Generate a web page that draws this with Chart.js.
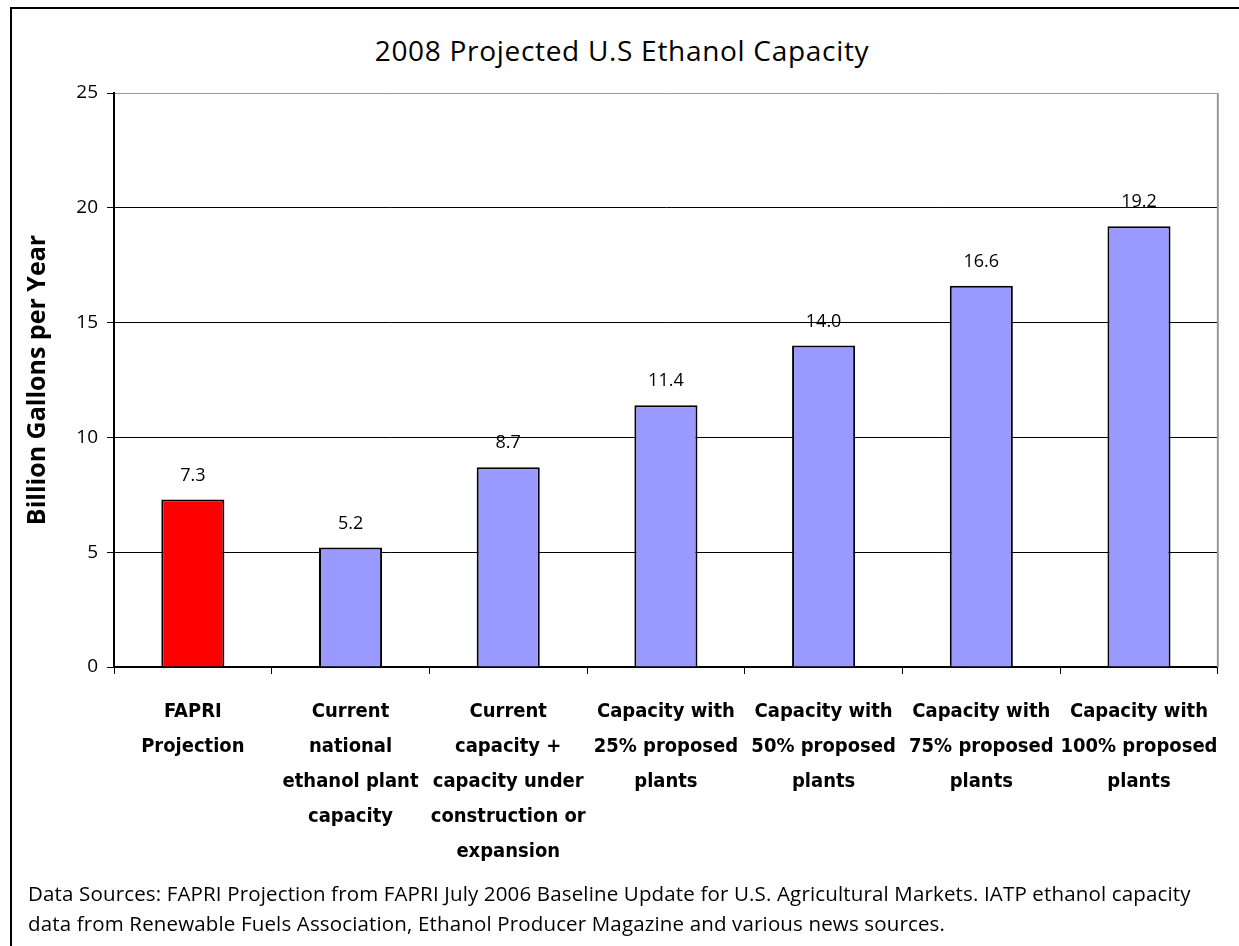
<!DOCTYPE html>
<html>
<head>
<meta charset="utf-8">
<script src="https://cdn.jsdelivr.net/npm/chart.js@4.4.1/dist/chart.umd.min.js"></script>
<style>
  html, body { margin: 0; padding: 0; background: #fff; overflow: hidden; }
  #wrap { position: relative; width: 1239px; height: 946px; overflow: hidden; }
  #frame { position: absolute; left: 10px; top: 7px; width: 1400px; height: 1100px; border: 2px solid #000; box-sizing: border-box; }
  #chartTitle { position: absolute; left: 0; width: 1244px; top: 30px; text-align: center;
    font-family: "Open Sans", "DejaVu Sans", sans-serif; font-size: 28px; letter-spacing: 0.7px; color: #000; line-height: 40px; }
  #note { position: absolute; left: 28px; top: 878px; font-family: "Open Sans", "DejaVu Sans", sans-serif;
    font-size: 20.5px; line-height: 30px; color: #000; white-space: nowrap; letter-spacing: 0.15px; }
  canvas { position: absolute; left: 0; top: 0; }
</style>
</head>
<body>
<div id="wrap">
  <div id="frame"></div>
  <div id="chartTitle">2008 Projected U.S Ethanol Capacity</div>
  <canvas id="c" width="1239" height="946"></canvas>
  <div id="note">Data Sources: FAPRI Projection from FAPRI July 2006 Baseline Update for U.S. Agricultural Markets. IATP ethanol capacity<br>data from Renewable Fuels Association, Ethanol Producer Magazine and various news sources.</div>
</div>
<script>
// --- data ---
const categories = [
    ['FAPRI', 'Projection'],
    ['Current', 'national', 'ethanol plant', 'capacity'],
    ['Current', 'capacity +', 'capacity under', 'construction or', 'expansion'],
    ['Capacity with', '25% proposed', 'plants'],
    ['Capacity with', '50% proposed', 'plants'],
    ['Capacity with', '75% proposed', 'plants'],
    ['Capacity with', '100% proposed', 'plants']
];
const capacity = [7.3, 5.2, 8.7, 11.4, 14.0, 16.6, 19.2];
const barColors = ['#FF0000', '#9999FF', '#9999FF', '#9999FF', '#9999FF', '#9999FF', '#9999FF'];
const yTicks = [0, 5, 10, 15, 20, 25];

const baseFont = '"Open Sans", "DejaVu Sans", sans-serif';

// value labels above each bar + grey plot-area right edge
const barLabels = {
    id: 'barLabels',
    beforeDatasetsDraw(chart) {
        const a = chart.chartArea;
        const ctx = chart.ctx;
        ctx.save();
        ctx.strokeStyle = '#999';
        ctx.lineWidth = 2;
        ctx.beginPath();
        ctx.moveTo(a.right, a.top);
        ctx.lineTo(a.right, a.bottom);
        ctx.stroke();
        ctx.restore();
    },
    afterDatasetsDraw(chart) {
        const ctx = chart.ctx;
        const meta = chart.getDatasetMeta(0);
        ctx.save();
        ctx.font = '18px ' + baseFont;
        ctx.fillStyle = '#000';
        ctx.textAlign = 'center';
        ctx.textBaseline = 'middle';
        meta.data.forEach((bar, i) => {
            ctx.fillText(capacity[i].toFixed(1), bar.x, bar.y - 24);
        });
        ctx.restore();
    }
};

new Chart(document.getElementById('c'), {
    type: 'bar',
    data: {
        labels: categories,
        datasets: [{
            data: capacity,
            backgroundColor: barColors,
            borderColor: '#000',
            borderWidth: 2,
            barPercentage: 0.4,
            categoryPercentage: 1
        }]
    },
    options: {
        responsive: false,
        animation: false,
        layout: { padding: { top: 93, right: 21, left: 0, bottom: 0 } },
        plugins: { legend: { display: false }, tooltip: { enabled: false } },
        scales: {
            x: {
                grid: { drawOnChartArea: false, drawTicks: true, tickLength: 7, color: '#000', offset: true },
                border: { color: '#000', width: 2 },
                ticks: {
                    color: '#000', padding: 20, maxRotation: 0, autoSkip: false,
                    font: { family: '"DejaVu Sans Condensed", "Liberation Sans Narrow", sans-serif', size: 20, weight: 'bold', lineHeight: 1.75 }
                },
                afterFit(s) { s.height = 946 - 667; }
            },
            y: {
                min: 0, max: 25,
                afterBuildTicks(s) { s.ticks = yTicks.map(v => ({ value: v })); },
                grid: {
                    color: c => (c.tick && c.tick.value === 25 ? '#999' : '#000'),
                    lineWidth: 1, tickLength: 7, tickColor: '#000'
                },
                border: { color: '#000', width: 2 },
                ticks: { color: '#000', padding: 9, font: { family: baseFont, size: 19 } },
                title: {
                    display: true, text: 'Billion Gallons per Year', color: '#000',
                    padding: { top: 23, bottom: 0 },
                    font: { family: baseFont, size: 25, weight: 'bold' }
                },
                afterFit(s) { s.width = 114; }
            }
        }
    },
    plugins: [barLabels]
});
</script>
</body>
</html>
